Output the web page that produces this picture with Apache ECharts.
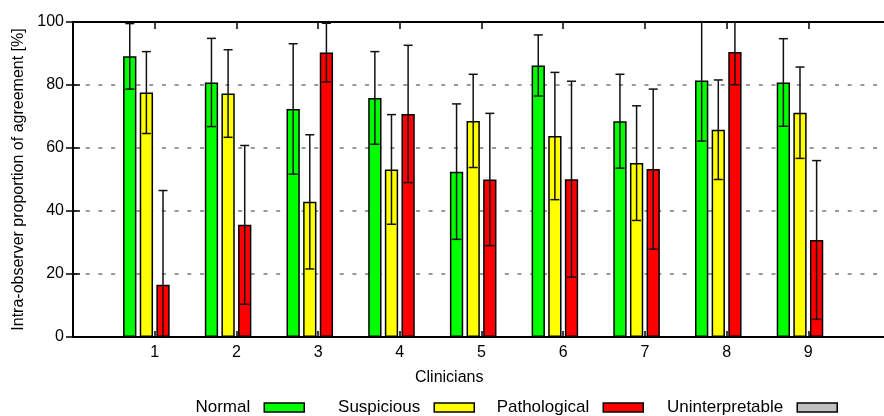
<!DOCTYPE html>
<html>
<head>
<meta charset="utf-8">
<script src="https://cdn.jsdelivr.net/npm/echarts@6/dist/echarts.min.js"></script>
<style>
html,body{margin:0;padding:0;background:#fff;}
#chart{width:884px;height:416px;}
</style>
</head>
<body>
<div id="chart"></div>
<script>
// ---- data ----
const categories = ['1','2','3','4','5','6','7','8','9'];
const seriesNames = ['Normal','Suspicious','Pathological','Uninterpretable'];
const normal       = [89.1, 80.8, 72.4, 75.9, 52.5, 86.2, 68.5, 81.4, 80.8];
const normalErr    = [10.4, 14.0, 20.7, 14.7, 21.5,  9.7, 14.9, 19.2, 13.9];
const suspicious   = [77.6, 77.3, 42.9, 53.2, 68.6, 63.8, 55.2, 65.8, 71.2];
const suspiciousErr= [13.0, 13.9, 21.3, 17.4, 14.8, 20.2, 18.2, 15.8, 14.5];
const pathological = [16.6, 35.6, 90.3, 70.8, 50.0, 50.1, 53.3, 90.5, 30.8];
const pathologicalErr=[29.9, 25.2,  9.3, 21.8, 21.0, 31.1, 25.4, 10.4, 25.2];
const uninterpretable = [0, 0, 0, 0, 0, 0, 0, 0, 0];
const yTicks = [0, 20, 40, 60, 80, 100];

// ---- styles ----
const FONT = 'Liberation Sans, Arial, Helvetica, sans-serif';
const colors = ['#00ff00', '#ffff00', '#ff0000', '#c0c0c0'];
const BAR_W = 13.3;
const BAR_GAP = 0.25;
const LEGEND_RIGHT = [579, 409, 240, 46];

const chart = echarts.init(document.getElementById('chart'), null, {renderer: 'canvas'});

function barData(vals) {
  return vals.map((v, i) => [i + 1, v]);
}
function errData(vals, errs) {
  return vals.map((v, i) => [i + 1, v - errs[i], v + errs[i]]);
}
function errSeries(vals, errs, k, nSeries) {
  const offset = (k - (nSeries - 1) / 2) * BAR_W * (1 + BAR_GAP);
  return {
    type: 'custom',
    xAxisIndex: 0, yAxisIndex: 0,
    clip: true,
    z: 5,
    silent: true,
    data: errData(vals, errs),
    renderItem: function (params, api) {
      const x = api.value(0);
      const lo = api.coord([x, api.value(1)]);
      const hi = api.coord([x, api.value(2)]);
      const cx = lo[0] + offset;
      const cap = 4.5;
      const st = {stroke: '#111', lineWidth: 1.5, fill: null};
      return {
        type: 'group',
        children: [
          {type: 'line', shape: {x1: cx, y1: lo[1], x2: cx, y2: hi[1]}, style: st},
          {type: 'line', shape: {x1: cx - cap, y1: lo[1], x2: cx + cap, y2: lo[1]}, style: st},
          {type: 'line', shape: {x1: cx - cap, y1: hi[1], x2: cx + cap, y2: hi[1]}, style: st}
        ]
      };
    }
  };
}

const barVals = [normal, suspicious, pathological, uninterpretable];
const series = [];
barVals.forEach((vals, k) => {
  series.push({
    name: seriesNames[k],
    type: 'bar',
    xAxisIndex: 0, yAxisIndex: 0,
    barWidth: BAR_W,
    barGap: (BAR_GAP * 100) + '%',
    data: barData(vals),
    itemStyle: {color: colors[k], borderColor: '#000', borderWidth: 1.5},
    emphasis: {disabled: true},
    z: 3
  });
});
series.push(errSeries(normal, normalErr, 0, 4));
series.push(errSeries(suspicious, suspiciousErr, 1, 4));
series.push(errSeries(pathological, pathologicalErr, 2, 4));

const legends = seriesNames.map((name, k) => ({
  data: [name],
  right: LEGEND_RIGHT[k], top: 399,
  padding: 0,
  align: 'right',
  icon: 'rect',
  itemWidth: 40, itemHeight: 9,
  selectedMode: false,
  textStyle: {fontFamily: FONT, fontSize: 17, color: '#000', padding: [0, 9, 0, 0]},
  itemStyle: {borderColor: '#000', borderWidth: 1.5}
}));

const option = {
  animation: false,
  backgroundColor: '#fff',
  textStyle: {fontFamily: FONT, color: '#000'},
  grid: {left: 73, top: 22, width: 817, height: 315, outerBoundsMode: 'none', containLabel: false,
         show: true, borderColor: '#000', borderWidth: 2, backgroundColor: 'transparent'},
  legend: legends,
  xAxis: [
    {
      type: 'value', position: 'bottom', min: 0, max: categories.length + 1, interval: 1,
      axisLine: {show: true, onZero: false, lineStyle: {color: '#000', width: 2}},
      axisTick: {show: true, inside: true, length: 6, lineStyle: {color: '#000', width: 1.5}},
      axisLabel: {
        show: true, margin: 8, fontSize: 16, color: '#000', fontFamily: FONT,
        formatter: function (v) { const i = Math.round(v) - 1; return (i >= 0 && i < categories.length) ? categories[i] : ''; }
      },
      splitLine: {show: false}
    },
    {
      type: 'value', position: 'top', min: 0, max: categories.length + 1, interval: 1,
      axisLine: {show: true, onZero: false, lineStyle: {color: '#000', width: 2}},
      axisTick: {show: true, inside: true, length: 7, lineStyle: {color: '#000', width: 1.5}},
      axisLabel: {show: false},
      splitLine: {show: false}
    }
  ],
  yAxis: [
    {
      type: 'value', min: yTicks[0], max: yTicks[yTicks.length - 1], interval: 20,
      name: 'Intra-observer proportion of agreement [%]',
      nameLocation: 'middle', nameRotate: 90, nameGap: 45,
      nameTextStyle: {fontFamily: FONT, fontSize: 16, color: '#000'},
      axisLine: {show: true, lineStyle: {color: '#000', width: 2}},
      axisTick: {show: true, inside: true, length: 7, lineStyle: {color: '#000', width: 1.5}},
      axisLabel: {show: true, margin: 9, fontSize: 16, color: '#000', fontFamily: FONT},
      splitLine: {show: true, showMinLine: false, showMaxLine: false, lineStyle: {color: '#999', width: 2, type: [4, 8.7]}}
    },
    {
      type: 'value', position: 'right', min: yTicks[0], max: yTicks[yTicks.length - 1], interval: 20,
      axisLine: {show: true, lineStyle: {color: '#000', width: 2}},
      axisTick: {show: true, inside: true, length: 7, lineStyle: {color: '#000', width: 1.5}},
      axisLabel: {show: false},
      splitLine: {show: false}
    }
  ],
  graphic: [
    {type: 'text', left: 415, top: 370, style: {text: 'Clinicians', font: '16px ' + FONT, fill: '#000'}}
  ],
  series: series
};
chart.setOption(option);
</script>
</body>
</html>
